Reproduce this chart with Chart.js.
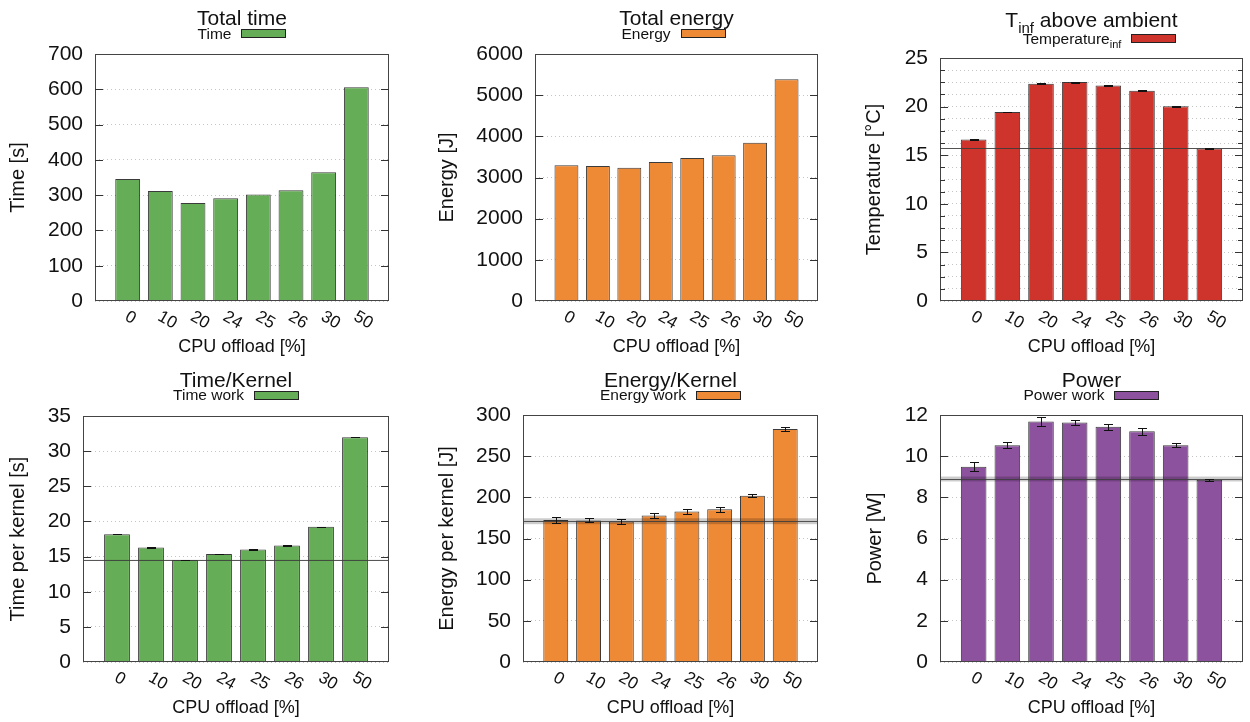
<!DOCTYPE html>
<html>
<head>
<meta charset="utf-8">
<title>CPU offload</title>
<script src="https://cdn.jsdelivr.net/npm/chart.js@4.4.1/dist/chart.umd.min.js"></script>
<style>
  body { margin: 0; background: #fff; }
  #wrap { position: relative; width: 1250px; height: 722px; overflow: hidden; }
  canvas { position: absolute; }
</style>
</head>
<body>
<div id="wrap">
  <canvas id="c1" width="420" height="360" style="left:0;top:0"></canvas>
  <canvas id="c2" width="410" height="360" style="left:420px;top:0"></canvas>
  <canvas id="c3" width="420" height="360" style="left:830px;top:0"></canvas>
  <canvas id="c4" width="420" height="362" style="left:0;top:360px"></canvas>
  <canvas id="c5" width="410" height="362" style="left:420px;top:360px"></canvas>
  <canvas id="c6" width="420" height="362" style="left:830px;top:360px"></canvas>
</div>
<script>
// CPU offload categories
var offload = ['0', '10', '20', '24', '25', '26', '30', '50'];

var totalTime = [346, 312, 278, 291, 302, 314, 365, 606];
var totalEnergy = [3296, 3279, 3239, 3377, 3474, 3538, 3846, 5385];

var tempInf = [16.62, 19.45, 22.34, 22.52, 22.17, 21.62, 20.03, 15.69];
var tempInfErr = [0.05, 0.04, 0.04, 0.05, 0.04, 0.04, 0.04, 0.04];

var timeKernel = [18.19, 16.30, 14.50, 15.35, 16.01, 16.58, 19.23, 31.98];
var timeKernelErr = [0.02, 0.07, 0.02, 0.02, 0.02, 0.02, 0.02, 0.02];

var energyKernel = [172.5, 172, 170.5, 178, 182.8, 185.6, 202, 283];
var energyKernelErr = [4, 2.5, 3, 3, 2.5, 3, 1.5, 2];

var power = [9.48, 10.53, 11.68, 11.63, 11.43, 11.21, 10.53, 8.86];
var powerErr = [0.22, 0.15, 0.2, 0.13, 0.15, 0.17, 0.1, 0.05];

// reference (best) level with its band
var tempRef = [15.69, 0.05];
var timeKernelRef = [14.5, 0.04];
var energyKernelRef = [171, 3.6];
var powerRef = [8.89, 0.12];

var FONT = '"Liberation Sans", Arial, Helvetica, sans-serif';
Chart.defaults.font.family = FONT;
Chart.defaults.color = '#111';

var panels = [
    { id: 'c1', title: [['Total time', 0]], legend: [['Time', 0]], values: totalTime,
      color: '#66ad57', yMax: 700, step: 100, major: 100, yTitle: 'Time [s]',
      lay: { yWidth: 95, top: 54, right: 31, xHeight: 59, yPad: 6, xPad: 2, titleY: 17.5, legendY: 33.3, shift: 0 } },
    { id: 'c2', title: [['Total energy', 0]], legend: [['Energy', 0]], values: totalEnergy,
      color: '#ee8935', yMax: 6000, step: 1000, major: 1000, yTitle: 'Energy [J]',
      lay: { yWidth: 115, top: 54, right: 12, xHeight: 59, yPad: 15, xPad: 2, titleY: 17.5, legendY: 33.3, shift: -3 } },
    { id: 'c3', title: [['T', 0], ['inf', 1], [' above ambient', 0]], legend: [['Temperature', 0], ['inf', 1]], values: tempInf,
      err: tempInfErr, ref: tempRef,
      color: '#cf342c', yMax: 25, step: 1.25, major: 5, yTitle: 'Temperature [°C]',
      lay: { yWidth: 110, top: 58, right: 7, xHeight: 59, yPad: 32, xPad: 2, titleY: 19, legendY: 38, shift: 8 } },
    { id: 'c4', title: [['Time/Kernel', 0]], legend: [['Time work', 0]], values: timeKernel,
      err: timeKernelErr, ref: timeKernelRef,
      color: '#66ad57', yMax: 35, step: 5, major: 5, yTitle: 'Time per kernel [s]',
      lay: { yWidth: 83, top: 56, right: 31, xHeight: 60, yPad: 6, xPad: 3, titleY: 19.5, legendY: 34.5, shift: 0 } },
    { id: 'c5', title: [['Energy/Kernel', 0]], legend: [['Energy work', 0]], values: energyKernel,
      err: energyKernelErr, ref: energyKernelRef,
      color: '#ee8935', yMax: 300, step: 50, major: 50, yTitle: 'Energy per kernel [J]',
      lay: { yWidth: 103, top: 55, right: 12, xHeight: 60, yPad: 15, xPad: 3, titleY: 19.5, legendY: 34.5, shift: 0 } },
    { id: 'c6', title: [['Power', 0]], legend: [['Power work', 0]], values: power,
      err: powerErr, ref: powerRef,
      color: '#8d529e', yMax: 12, step: 2, major: 2, yTitle: 'Power [W]',
      lay: { yWidth: 110, top: 55, right: 7, xHeight: 60, yPad: 33, xPad: 3, titleY: 19.5, legendY: 34.5, shift: 0 } }
];

function isMajor(v, major) {
    var r = v / major;
    return Math.abs(r - Math.round(r)) < 1e-6;
}

function partsWidth(ctx, parts, size, subSize) {
    var w = 0;
    parts.forEach(function (p) {
        ctx.font = (p[1] ? subSize : size) + 'px ' + FONT;
        w += ctx.measureText(p[0]).width;
    });
    return w;
}

function drawParts(ctx, parts, x, base, size, subSize, drop) {
    parts.forEach(function (p) {
        ctx.font = (p[1] ? subSize : size) + 'px ' + FONT;
        ctx.fillText(p[0], x, p[1] ? base + drop : base);
        x += ctx.measureText(p[0]).width;
    });
}

function makePlugin(p) {
    return {
        id: 'panel_' + p.id,
        afterDatasetsDraw: function (chart) {
            var ctx = chart.ctx, a = chart.chartArea;
            var xs = chart.scales.x, ys = chart.scales.y;
            ctx.save();
            // reference band + line
            if (p.ref) {
                var yt = ys.getPixelForValue(p.ref[0] + p.ref[1]);
                var yb = ys.getPixelForValue(p.ref[0] - p.ref[1]);
                ctx.fillStyle = 'rgba(0,0,0,0.2)';
                ctx.fillRect(a.left, yt, a.right - a.left, Math.max(yb - yt, 0.5));
                var yl = Math.round(ys.getPixelForValue(p.ref[0])) + 0.5;
                ctx.strokeStyle = 'rgba(60,60,60,0.85)';
                ctx.lineWidth = 1;
                ctx.beginPath();
                ctx.moveTo(a.left, yl);
                ctx.lineTo(a.right, yl);
                ctx.stroke();
            }
            // error bars
            if (p.err) {
                ctx.strokeStyle = '#111';
                ctx.lineWidth = 1;
                p.err.forEach(function (e, i) {
                    var v = p.values[i];
                    var px = Math.round(xs.getPixelForValue(i + 1)) + 0.5;
                    var y1 = Math.round(ys.getPixelForValue(v + e)) + 0.5;
                    var y2 = Math.round(ys.getPixelForValue(v - e)) + 0.5;
                    ctx.beginPath();
                    ctx.moveTo(px, y1); ctx.lineTo(px, y2);
                    ctx.moveTo(px - 4.5, y1); ctx.lineTo(px + 4.5, y1);
                    ctx.moveTo(px - 4.5, y2); ctx.lineTo(px + 4.5, y2);
                    ctx.stroke();
                });
            }
            // frame
            ctx.strokeStyle = '#444';
            ctx.strokeRect(Math.round(a.left) + 0.5, Math.round(a.top) + 0.5,
                Math.round(a.right - a.left) - 1, Math.round(a.bottom - a.top) - 1);
            // inward tick marks, mirrored (skip the ones on the frame edges)
            ctx.strokeStyle = '#333';
            ys.ticks.forEach(function (t) {
                if (t.value <= ys.min || t.value >= ys.max) return;
                var len = isMajor(t.value, p.major) ? 8 : 5;
                var py = Math.round(ys.getPixelForValue(t.value)) + 0.5;
                ctx.beginPath();
                ctx.moveTo(a.left, py); ctx.lineTo(a.left + len, py);
                ctx.moveTo(a.right - len, py); ctx.lineTo(a.right, py);
                ctx.stroke();
            });
            ctx.restore();
        },
        afterDraw: function (chart) {
            var ctx = chart.ctx, a = chart.chartArea, xs = chart.scales.x;
            var cx = (a.left + a.right) / 2;
            ctx.save();
            ctx.fillStyle = '#111';
            ctx.textBaseline = 'alphabetic';
            ctx.textAlign = 'left';
            // title
            var tw = partsWidth(ctx, p.title, 21, 15);
            drawParts(ctx, p.title, cx - tw / 2, p.lay.titleY + 7.5, 21, 15, 6);
            // legend: text then colour box
            var lw = partsWidth(ctx, p.legend, 15.5, 11);
            var lx = cx - (lw + 55) / 2 + p.lay.shift;
            drawParts(ctx, p.legend, lx, p.lay.legendY + 5.5, 15.5, 11, 4);
            var bx = Math.round(lx + lw + 10) + 0.5, by = Math.round(p.lay.legendY - 4) + 0.5;
            ctx.fillStyle = p.color;
            ctx.fillRect(bx, by, 44, 8);
            ctx.strokeStyle = '#222';
            ctx.strokeRect(bx, by, 44, 8);
            // rotated x tick labels
            ctx.fillStyle = '#111';
            ctx.font = '17px ' + FONT;
            ctx.textBaseline = 'top';
            offload.forEach(function (lab, i) {
                var px = xs.getPixelForValue(i + 1);
                ctx.save();
                ctx.translate(px + 3, a.bottom + 7);
                ctx.rotate(Math.PI / 6);
                ctx.fillText(lab, 0, 0);
                ctx.restore();
            });
            ctx.restore();
        }
    };
}

panels.forEach(function (p) {
    var labels = [''].concat(offload, ['']);
    var data = [null].concat(p.values, [null]);
    new Chart(document.getElementById(p.id), {
        type: 'bar',
        data: {
            labels: labels,
            datasets: [{
                label: p.legend.map(function (l) { return l[0]; }).join(''),
                data: data,
                backgroundColor: p.color,
                borderColor: 'rgba(25,25,25,0.85)',
                borderWidth: 1,
                barPercentage: 0.76,
                categoryPercentage: 1
            }]
        },
        options: {
            responsive: false,
            animation: false,
            events: [],
            layout: { padding: { top: p.lay.top, right: p.lay.right, left: 0, bottom: 0 } },
            plugins: {
                legend: { display: false },
                title: { display: false },
                tooltip: { enabled: false }
            },
            scales: {
                x: {
                    offset: false,
                    grid: { display: false },
                    border: { display: false },
                    ticks: { display: false },
                    title: {
                        display: true,
                        text: 'CPU offload [%]',
                        font: { size: 18 },
                        color: '#111',
                        padding: { top: 0, bottom: p.lay.xPad }
                    },
                    afterFit: function (s) { s.height = p.lay.xHeight; }
                },
                y: {
                    min: 0,
                    max: p.yMax,
                    ticks: {
                        stepSize: p.step,
                        autoSkip: false,
                        padding: 12,
                        font: { size: 21 },
                        color: '#111',
                        callback: function (v) { return isMajor(v, p.major) ? v : ''; }
                    },
                    grid: { drawTicks: false, color: '#c4c4c4', lineWidth: 1 },
                    border: { display: false, dash: [1, 3] },
                    title: {
                        display: true,
                        text: p.yTitle,
                        font: { size: 20 },
                        color: '#111',
                        padding: { top: p.lay.yPad, bottom: 0 }
                    },
                    afterFit: function (s) { s.width = p.lay.yWidth; }
                }
            }
        },
        plugins: [makePlugin(p)]
    });
});
</script>
</body>
</html>
